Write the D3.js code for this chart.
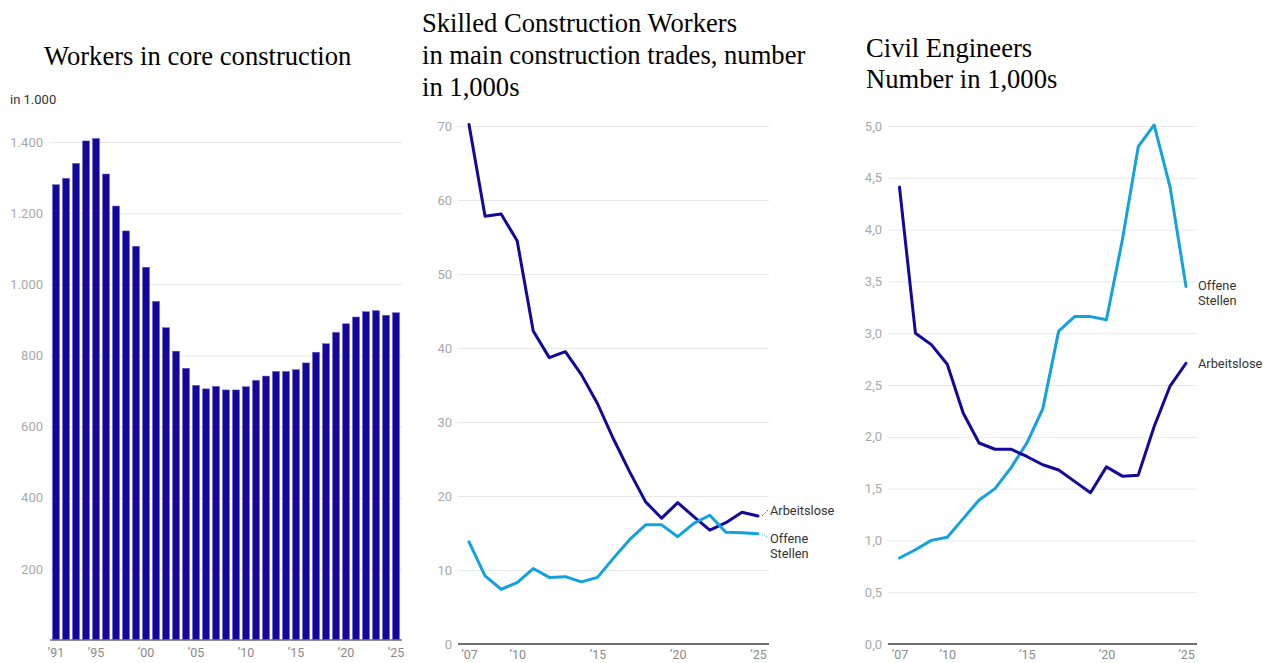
<!DOCTYPE html>
<html>
<head>
<meta charset="utf-8">
<script src="https://cdn.jsdelivr.net/npm/d3@7"></script>
<style>
  html, body { margin: 0; padding: 0; background: #fff; }
  svg { display: block; }
  .title { font-family: "Liberation Serif", "Times New Roman", serif; font-size: 26.6px; fill: #000; }
  .tick-y { font-family: Roboto, "Noto Sans", sans-serif; font-size: 13px; fill: #a8a8a8; }
  .tick-x { font-family: Roboto, "Noto Sans", sans-serif; font-size: 12.5px; fill: #8a8a8a; }
  .unit { font-family: Roboto, "Noto Sans", sans-serif; font-size: 13px; fill: #333; }
  .series-label { font-family: Roboto, "Noto Sans", sans-serif; font-size: 12.8px; fill: #333; }
</style>
</head>
<body>
<svg id="chart" width="1273" height="663"></svg>
<script>
// Workers in core construction, in 1,000
const barYears = [1991, 1992, 1993, 1994, 1995, 1996, 1997, 1998, 1999, 2000,
  2001, 2002, 2003, 2004, 2005, 2006, 2007, 2008, 2009, 2010,
  2011, 2012, 2013, 2014, 2015, 2016, 2017, 2018, 2019, 2020,
  2021, 2022, 2023, 2024, 2025];
const coreWorkers = [1280, 1298, 1340, 1403, 1410, 1310, 1220, 1150, 1107, 1048,
  952, 878, 812, 764, 716, 706, 713, 703, 703, 712,
  730, 742, 755, 755, 760, 779, 809, 833, 865, 889,
  908, 923, 926, 913, 920];
const barTickYears = [1991, 1995, 2000, 2005, 2010, 2015, 2020, 2025];
const barTickValues = [200, 400, 600, 800, 1000, 1200, 1400];

// Skilled construction workers and civil engineers, in 1,000
const lineYears = [2007, 2008, 2009, 2010, 2011, 2012, 2013, 2014, 2015, 2016,
  2017, 2018, 2019, 2020, 2021, 2022, 2023, 2024, 2025];
const skilledUnemployed = [70.2, 57.8, 58.1, 54.5, 42.3, 38.7, 39.5, 36.4, 32.5, 27.7,
  23.3, 19.2, 17.0, 19.1, 17.2, 15.4, 16.4, 17.8, 17.3];
const skilledVacancies = [13.8, 9.2, 7.4, 8.3, 10.2, 9.0, 9.1, 8.4, 9.0, 11.6,
  14.1, 16.1, 16.1, 14.5, 16.3, 17.4, 15.1, 15.05, 14.9];
const engUnemployed = [4.41, 3.00, 2.89, 2.70, 2.23, 1.94, 1.88, 1.88, 1.81, 1.73,
  1.68, 1.57, 1.46, 1.71, 1.62, 1.63, 2.10, 2.49, 2.71];
const engVacancies = [0.83, 0.91, 1.00, 1.03, 1.21, 1.39, 1.50, 1.70, 1.94, 2.27,
  3.02, 3.16, 3.16, 3.13, 3.90, 4.80, 5.01, 4.41, 3.45];
const lineTickYears = [2007, 2010, 2015, 2020, 2025];
const skilledTickValues = [0, 10, 20, 30, 40, 50, 60, 70];
const engTickValues = [0, 0.5, 1, 1.5, 2, 2.5, 3, 3.5, 4, 4.5, 5];

const seriesNames = ["Arbeitslose", "Offene Stellen"];

const DARK = "#12089c";
const LIGHT = "#12a2de";
const GRID = "#e8e8e8";
const AXIS = "#6f6f6f";

const svg = d3.select("#chart");
const yearLabel = y => "\u2019" + String(y).slice(2);
const de = d3.formatLocale({ decimal: ",", thousands: ".", grouping: [3], currency: ["", "€"] });

function styleTicks(sel, cls) {
  sel.selectAll(".tick text").attr("class", cls).attr("fill", null).attr("font-size", null).attr("font-family", null);
}

// ---------- Bar chart ----------
(function drawBars() {
  const g = svg.append("g");
  const x = d3.scaleBand().domain(barYears).range([51, 401]).paddingInner(0.3).paddingOuter(0.15);
  const y = d3.scaleLinear().domain([0, 1400]).range([640, 142]);

  g.append("text").attr("class", "title").attr("x", 44).attr("y", 65).text("Workers in core construction");
  g.append("text").attr("class", "unit").attr("x", 10).attr("y", 104).text("in 1.000");

  const yAxis = d3.axisLeft(y).tickValues(barTickValues).tickSize(-352).tickPadding(7)
    .tickFormat(de.format(",d"));
  const ya = g.append("g").attr("transform", "translate(50,0)").call(yAxis);
  ya.select(".domain").remove();
  ya.selectAll(".tick line").attr("stroke", GRID).attr("stroke-width", 1);
  styleTicks(ya, "tick-y");

  g.append("g").selectAll("rect").data(coreWorkers).join("rect")
    .attr("x", (d, i) => x(barYears[i]))
    .attr("width", x.bandwidth())
    .attr("y", d => y(d))
    .attr("height", d => y(0) - y(d))
    .attr("fill", DARK)
    .attr("stroke", "#6a63c4")
    .attr("stroke-width", 0.5);

  const xAxis = d3.axisBottom(x).tickValues(barTickYears).tickSize(0).tickPadding(8).tickFormat(yearLabel);
  const xa = g.append("g").attr("transform", "translate(0,640)").call(xAxis);
  xa.select(".domain").remove();
  styleTicks(xa, "tick-x");
  g.append("line").attr("x1", 50).attr("x2", 402).attr("y1", y(0)).attr("y2", y(0))
    .attr("stroke", AXIS).attr("stroke-width", 1.5);
})();

// ---------- Line charts ----------
function drawLines(cfg) {
  const g = svg.append("g");
  const x = d3.scaleLinear().domain([lineYears[0], lineYears[lineYears.length - 1]]).range(cfg.xRange);
  const y = d3.scaleLinear().domain(cfg.yDomain).range([644, 126]);

  cfg.title.forEach((t, i) => {
    g.append("text").attr("class", "title").attr("x", cfg.titleX).attr("y", cfg.titleY + i * cfg.titleStep).text(t);
  });

  const yAxis = d3.axisLeft(y).tickValues(cfg.yTicks).tickSize(-(cfg.gridX[1] - cfg.gridX[0]))
    .tickPadding(cfg.gridX[0] - cfg.labelRight).tickFormat(cfg.yFormat);
  const ya = g.append("g").attr("transform", `translate(${cfg.gridX[0]},0)`).call(yAxis);
  ya.select(".domain").remove();
  ya.selectAll(".tick line").attr("stroke", GRID).attr("stroke-width", 1);
  styleTicks(ya, "tick-y");

  const xAxis = d3.axisBottom(x).tickValues(lineTickYears).tickSize(0).tickPadding(6).tickFormat(yearLabel);
  const xa = g.append("g").attr("transform", "translate(0,644)").call(xAxis);
  xa.select(".domain").remove();
  styleTicks(xa, "tick-x");
  g.append("line").attr("x1", cfg.gridX[0]).attr("x2", cfg.gridX[1]).attr("y1", y(0)).attr("y2", y(0))
    .attr("stroke", AXIS).attr("stroke-width", 2);

  const line = d3.line().x((d, i) => x(lineYears[i])).y(d => y(d)).curve(d3.curveLinear);
  cfg.series.forEach(s => {
    g.append("path").datum(s.values).attr("d", line)
      .attr("fill", "none").attr("stroke", s.color).attr("stroke-width", 3)
      .attr("stroke-linejoin", "round").attr("stroke-linecap", "round");

    const last = s.values[s.values.length - 1];
    const lx = x(lineYears[lineYears.length - 1]);
    const ly = y(last);
    const tx = cfg.gridX[1] + 1;
    const ty = s.labelY;
    if (s.leader) {
      g.append("line").attr("x1", lx + 4).attr("y1", ly).attr("x2", tx - 2).attr("y2", ty - (s.lines.length - 1) * 7.5 - 1)
        .attr("stroke", s.color).attr("stroke-width", 1).attr("stroke-dasharray", "1,1.5");
    }
    const text = g.append("text").attr("class", "series-label").attr("x", tx).attr("y", ty - (s.lines.length - 1) * 7.5);
    s.lines.forEach((ln, i) => {
      text.append("tspan").attr("x", tx).attr("dy", i === 0 ? "0.35em" : "15px").text(ln);
    });
  });
}

drawLines({
  title: ["Skilled Construction Workers", "in main construction trades, number", "in 1,000s"],
  titleX: 422, titleY: 32, titleStep: 32,
  xRange: [469, 758], yDomain: [0, 70], yTicks: skilledTickValues,
  yFormat: d3.format("d"), gridX: [458, 769], labelRight: 452,
  series: [
    { values: skilledUnemployed, color: DARK, lines: [seriesNames[0]], labelY: 511, leader: true },
    { values: skilledVacancies, color: LIGHT, lines: ["Offene", "Stellen"], labelY: 546, leader: true }
  ]
});

drawLines({
  title: ["Civil Engineers", "Number in 1,000s"],
  titleX: 866, titleY: 57, titleStep: 31,
  xRange: [899.5, 1186], yDomain: [0, 5], yTicks: engTickValues,
  yFormat: de.format(".1f"), gridX: [888, 1197], labelRight: 882,
  series: [
    { values: engVacancies, color: LIGHT, lines: ["Offene", "Stellen"], labelY: 293, leader: false },
    { values: engUnemployed, color: DARK, lines: [seriesNames[0]], labelY: 364, leader: false }
  ]
});
</script>
</body>
</html>
